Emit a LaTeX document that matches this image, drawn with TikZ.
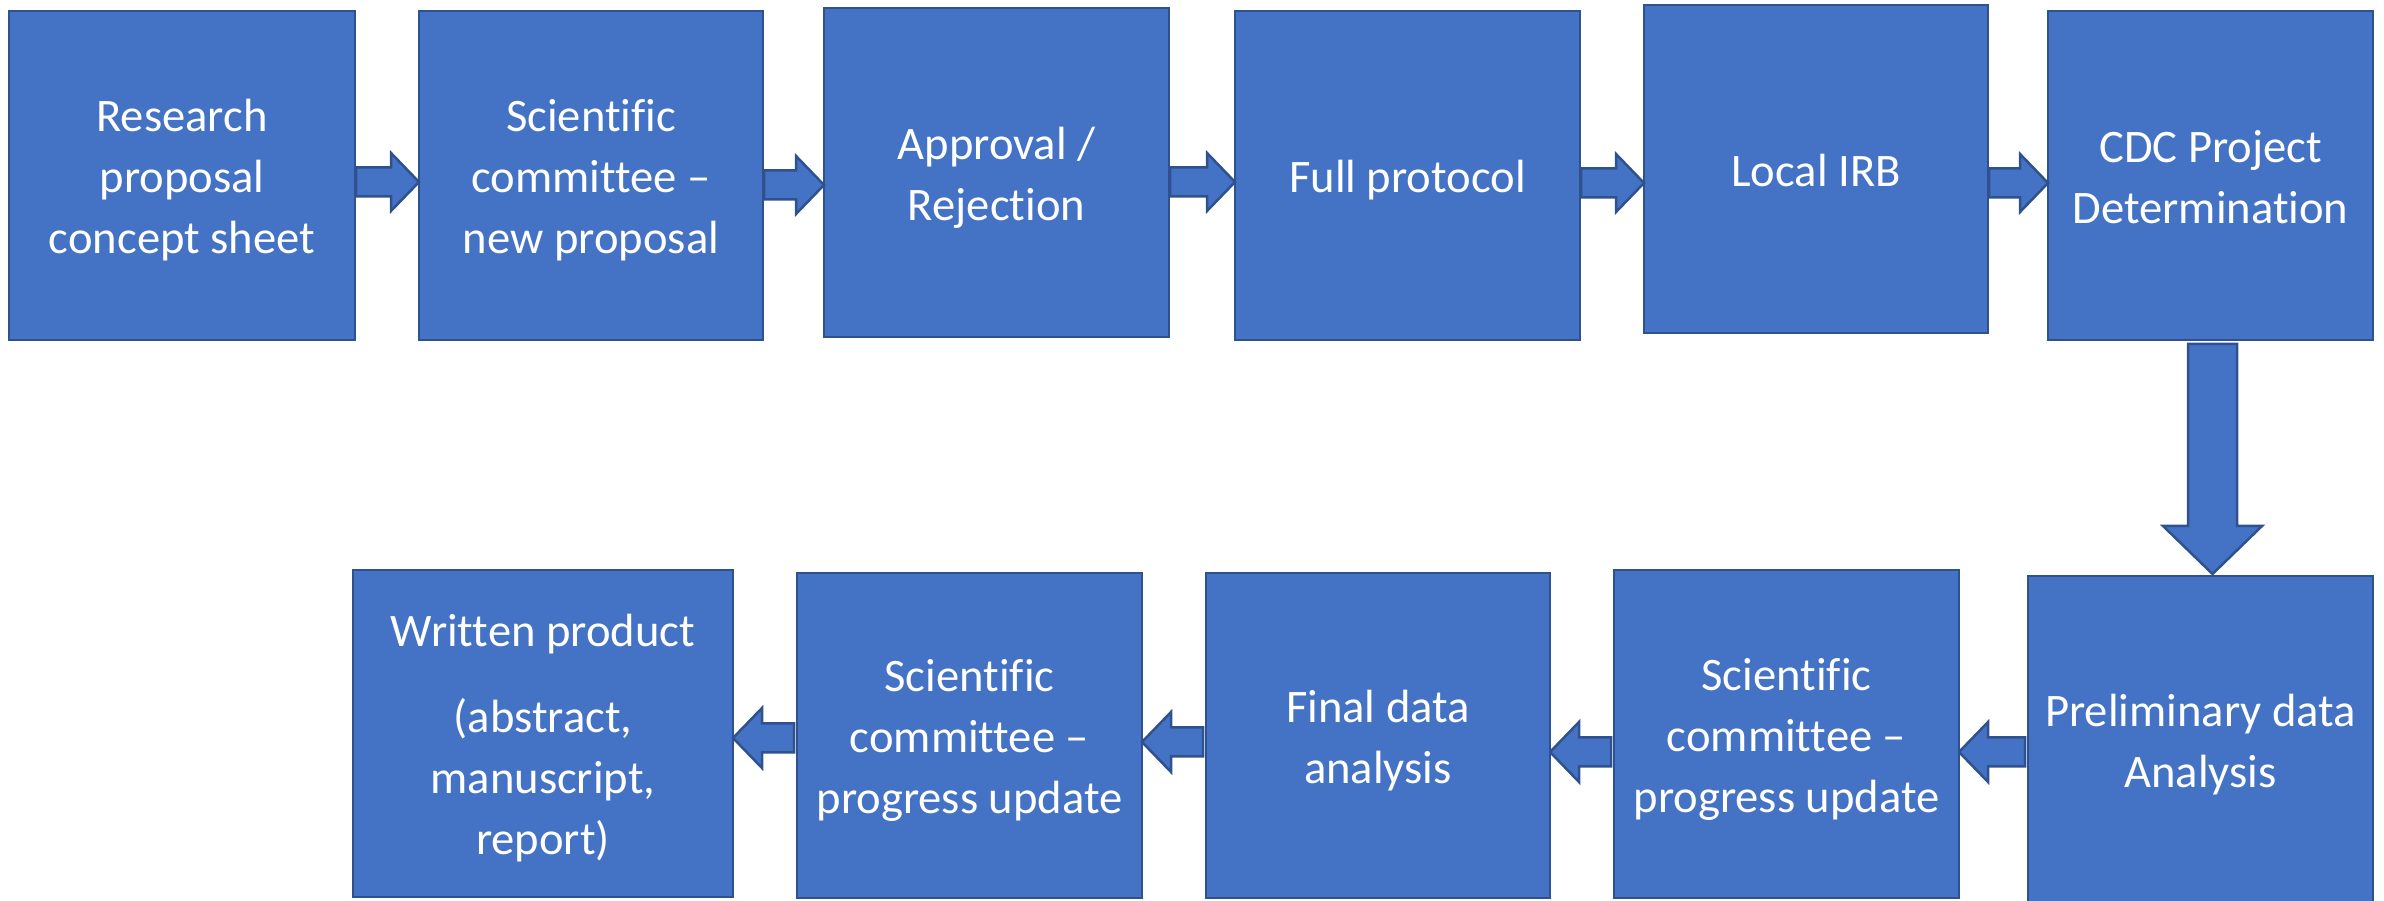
\documentclass[tikz,border=0pt]{standalone}
\usepackage{fontspec}
\setmainfont{Carlito}[Ligatures={NoCommon}]
\usetikzlibrary{calc}
\definecolor{boxfill}{HTML}{4472C4}
\definecolor{boxline}{HTML}{2F528F}
\newcommand\lnstrut{\rule[-13pt]{0pt}{61pt}}
\tikzset{
  stepbox/.style={draw=boxline, fill=boxfill, line width=2.5pt, inner sep=0pt, outer sep=0pt,
    text=white, align=center, font=\fontsize{46.6pt}{61pt}\selectfont},
  blockarr/.style={draw=boxline, fill=boxfill, line width=2.5pt, line join=miter}
}
% right-pointing block arrow from #1 to #2 at height #3
\newcommand\rblockarrow[3]{%
  \draw[blockarr] let \p1=(#1.east), \p2=(#2.west) in
    (\x1+1pt,#3pt-14.5pt) -- (\x2-28pt,#3pt-14.5pt) -- (\x2-28pt,#3pt-29pt) -- (\x2,#3pt)
    -- (\x2-28pt,#3pt+29pt) -- (\x2-28pt,#3pt+14.5pt) -- (\x1+1pt,#3pt+14.5pt) -- cycle;}
% left-pointing block arrow from #1 (right) to #2 (left) at height #3
\newcommand\lblockarrow[3]{%
  \draw[blockarr] let \p1=(#1.west), \p2=(#2.east) in
    (\x1-3pt,#3pt-14.5pt) -- (\x2+29pt,#3pt-14.5pt) -- (\x2+29pt,#3pt-30pt) -- (\x2,#3pt)
    -- (\x2+29pt,#3pt+30pt) -- (\x2+29pt,#3pt+14.5pt) -- (\x1-3pt,#3pt+14.5pt) -- cycle;}
\begin{document}
\begin{tikzpicture}[x=1pt,y=1pt]
\useasboundingbox (0,0) rectangle (2384,901);
% top row
\node[stepbox, minimum width=346pt, minimum height=329pt] (n1) at (182,725.5)
  {\lnstrut Research\\\lnstrut proposal\\\lnstrut concept sheet};
\node[stepbox, minimum width=344pt, minimum height=329pt] (n2) at (591,725.5)
  {\lnstrut Scientific\\\lnstrut committee –\\\lnstrut new proposal};
\node[stepbox, minimum width=345pt, minimum height=329pt] (n3) at (996.5,728.5)
  {\lnstrut Approval /\\\lnstrut Rejection};
\node[stepbox, minimum width=345pt, minimum height=329pt] (n4) at (1407.5,725.5)
  {\lnstrut Full protocol};
\node[stepbox, minimum width=344pt, minimum height=328pt] (n5) at (1816,732)
  {\lnstrut Local IRB};
\node[stepbox, minimum width=325pt, minimum height=329pt] (n6) at (2210.5,725.5)
  {\lnstrut CDC Project\\\lnstrut Determination};
% bottom row
\node[stepbox, minimum width=345pt, minimum height=327pt] (n7) at (2200.5,161.5)
  {\lnstrut Preliminary data\\\lnstrut Analysis};
\node[stepbox, minimum width=345pt, minimum height=328pt] (n8) at (1786.5,167)
  {\lnstrut Scientific\\\lnstrut committee –\\\lnstrut progress update};
\node[stepbox, minimum width=344pt, minimum height=325pt] (n9) at (1378,165.5)
  {\lnstrut Final data\\\lnstrut analysis};
\node[stepbox, minimum width=345pt, minimum height=325pt] (n10) at (969.5,165.5)
  {\lnstrut Scientific\\\lnstrut committee –\\\lnstrut progress update};
\node[stepbox, minimum width=380pt, minimum height=327pt] (n11) at (543,167.5)
  {\lnstrut Written product\\[25pt]\lnstrut (abstract,\\\lnstrut manuscript,\\\lnstrut report)};
% arrows, top row
\rblockarrow{n1}{n2}{719}
\rblockarrow{n2}{n3}{716}
\rblockarrow{n3}{n4}{719}
\rblockarrow{n4}{n5}{718}
\rblockarrow{n5}{n6}{718}
% down arrow
\draw[blockarr] let \p1=(n6.south), \p2=(n7.north) in
  (\x1-22.5pt,\y1-4pt) -- (\x1+26.5pt,\y1-4pt) -- (\x1+26.5pt,\y2+50pt) -- (\x1+51.5pt,\y2+50pt)
  -- (\x1+2pt,\y2+2pt) -- (\x1-47.5pt,\y2+50pt) -- (\x1-22.5pt,\y2+50pt) -- cycle;
% arrows, bottom row
\lblockarrow{n7}{n8}{149}
\lblockarrow{n8}{n9}{149}
\lblockarrow{n9}{n10}{159}
\lblockarrow{n10}{n11}{163}
\end{tikzpicture}
\end{document}
